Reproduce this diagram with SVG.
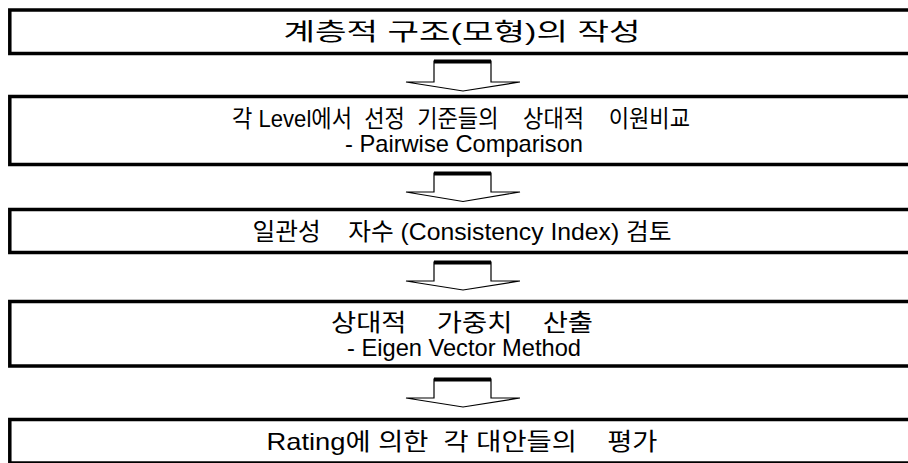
<svg xmlns="http://www.w3.org/2000/svg" width="908" height="463" viewBox="0 0 908 463">
<style>
.box{fill:#fff;stroke:#000;stroke-width:3.5}
.t{font-family:"Liberation Sans","Noto Sans CJK KR",sans-serif;font-size:24px;fill:#000;text-anchor:middle;white-space:pre}
.arr{fill:#fff;stroke:#000;stroke-width:1.2;stroke-linejoin:miter}
.bar{fill:#000}
</style>
<rect width="908" height="463" fill="#fff"/>
<g id="connectors">
<g id="a1"><path class="arr" d="M434,82 L434,61 L491,61 L491,82 L520,82 L463,91 L406,82 Z"/><rect class="bar" x="434" y="59.5" width="57" height="4"/></g>
<g id="a2"><path class="arr" d="M434,192 L434,173 L491,173 L491,192 L520,192 L463,201.5 L406,192 Z"/><rect class="bar" x="434" y="171.5" width="57" height="4"/></g>
<g id="a3"><path class="arr" d="M434,281 L434,262 L491,262 L491,281 L520,281 L463,290 L406,281 Z"/><rect class="bar" x="434" y="260.5" width="57" height="4"/></g>
<g id="a4"><path class="arr" d="M434,398 L434,379 L491,379 L491,398 L520,398 L463,407 L406,398 Z"/><rect class="bar" x="434" y="377.5" width="57" height="4"/></g>
</g>
<g id="n1"><rect class="box" x="9.8" y="10" width="920" height="43.5"/>
<text class="t" x="462" y="40" textLength="357" lengthAdjust="spacingAndGlyphs">계층적 구조(모형)의 작성</text></g>
<g id="n2"><rect class="box" x="9.8" y="96.5" width="920" height="68"/>
<text class="t" x="461" y="127" textLength="458" lengthAdjust="spacingAndGlyphs">각 Level에서  선정  기준들의    상대적    이원비교</text>
<text class="t" x="464" y="152" textLength="238" lengthAdjust="spacingAndGlyphs">- Pairwise Comparison</text></g>
<g id="n3"><rect class="box" x="9.8" y="209.5" width="920" height="43"/>
<text class="t" x="462" y="240" textLength="419" lengthAdjust="spacingAndGlyphs">일관성    자수 (Consistency Index) 검토</text></g>
<g id="n4"><rect class="box" x="9.8" y="301.5" width="920" height="64.5"/>
<text class="t" x="462" y="331" textLength="262" lengthAdjust="spacingAndGlyphs">상대적    가중치    산출</text>
<text class="t" x="464" y="356" textLength="234" lengthAdjust="spacingAndGlyphs">- Eigen Vector Method</text></g>
<g id="n5"><rect class="box" x="9.8" y="419.5" width="920" height="43.5"/>
<text class="t" x="462" y="450" textLength="391" lengthAdjust="spacingAndGlyphs">Rating에 의한  각 대안들의    평가</text></g>
</svg>
